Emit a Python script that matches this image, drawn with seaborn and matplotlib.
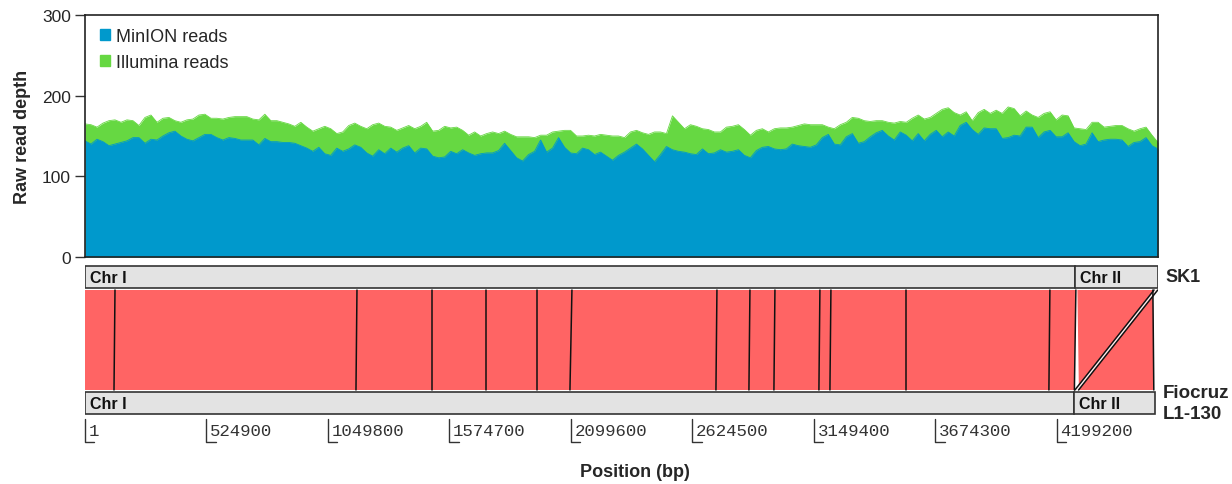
import numpy as np
import pandas as pd
import matplotlib
matplotlib.use("Agg")
import matplotlib.pyplot as plt
from matplotlib.patches import Patch, Rectangle
import seaborn as sns

# read depth in ~25.9 kb windows along the SK1 genome
window_bp = 25900
minion_depth = [
    144, 140, 146, 143, 138, 140, 142, 144, 148, 148, 141, 146, 145, 150, 154, 156, 150, 146,
    144, 148, 152, 152, 148, 145, 148, 147, 145, 145, 145, 139, 147, 143, 143, 142, 142, 141,
    138, 135, 131, 136, 128, 126, 135, 131, 134, 139, 136, 129, 125, 133, 128, 135, 130, 135,
    138, 129, 135, 134, 125, 123, 124, 131, 128, 133, 129, 126, 128, 129, 129, 132, 141, 132,
    123, 119, 127, 131, 145, 130, 135, 148, 136, 129, 128, 135, 133, 127, 130, 125, 120, 126,
    130, 135, 140, 134, 126, 118, 127, 137, 133, 131, 130, 128, 127, 134, 128, 129, 133, 130,
    131, 133, 126, 123, 132, 136, 137, 134, 133, 134, 140, 138, 137, 136, 139, 148, 152, 140,
    139, 149, 153, 141, 143, 149, 154, 157, 150, 145, 155, 151, 144, 153, 144, 152, 157, 149,
    155, 150, 163, 167, 158, 152, 160, 159, 159, 147, 148, 151, 150, 161, 161, 148, 155, 157,
    149, 149, 154, 143, 138, 140, 154, 143, 145, 146, 146, 145, 137, 142, 143, 148, 138, 134,
]
illumina_depth = [
    165, 164, 161, 166, 169, 170, 167, 170, 169, 163, 173, 176, 167, 172, 173, 169, 167, 170,
    171, 176, 177, 172, 172, 171, 173, 174, 174, 174, 171, 170, 177, 169, 169, 167, 165, 162,
    167, 161, 156, 159, 162, 159, 153, 155, 163, 166, 162, 159, 164, 166, 162, 161, 157, 160,
    163, 159, 162, 167, 156, 157, 162, 160, 161, 157, 151, 155, 150, 153, 155, 153, 156, 152,
    149, 149, 149, 148, 151, 151, 155, 156, 157, 157, 150, 150, 151, 150, 152, 151, 150, 150,
    148, 155, 157, 154, 152, 155, 155, 153, 175, 167, 159, 164, 162, 159, 158, 155, 155, 161,
    162, 164, 158, 151, 157, 159, 155, 159, 160, 160, 161, 163, 165, 164, 164, 164, 161, 159,
    164, 167, 173, 172, 169, 168, 169, 169, 167, 166, 168, 167, 172, 176, 171, 173, 178, 183,
    185, 179, 176, 180, 169, 179, 183, 178, 182, 178, 186, 184, 175, 181, 176, 173, 178, 180,
    170, 176, 175, 160, 159, 158, 167, 167, 161, 162, 163, 163, 159, 156, 159, 161, 151, 142,
]

# genome layout (bp)
sk1_chr_ends = [4277000, 4635600]
fio_chr_ends = [4272700, 4622600]
chr_names = ["Chr I", "Chr II"]

# collinear block breakpoints on Chr I (SK1 vs Fiocruz L1-130)
sk1_breaks = [0, 129600, 1175100, 1499100, 1732400, 1952700, 2103900, 2730400, 2873000,
              2981000, 3175300, 3222900, 3546900, 4169000, 4281300]
fio_breaks = [0, 125300, 1170800, 1499100, 1732400, 1952700, 2095300, 2726100, 2868600,
              2976600, 3171000, 3218600, 3546900, 4164700, 4274800]
# Chr II: main block, plus a small end segment that moved to the start in Fiocruz
chr2_main = (4287800, 4614000, 4294300, 4618000)
chr2_moved = (4619000, 4635000, 4277000, 4293000)

tick_pos = [1, 524900, 1049800, 1574700, 2099600, 2624500, 3149400, 3674300, 4199200]

blue = "#0099CC"
green = "#66D842"
red = "#FF6464"
bar_grey = "#E3E3E3"

df = pd.DataFrame({
    "pos": np.arange(len(minion_depth)) * window_bp,
    "MinION": minion_depth,
    "Illumina": illumina_depth,
})

sns.set_theme(style="white")
plt.rcParams["font.family"] = ["Liberation Sans", "DejaVu Sans"]

fig = plt.figure(figsize=(12.32, 4.85), dpi=100)
xmax = df["pos"].iloc[-1]

# ---- coverage panel ----
ax = fig.add_axes([85 / 1232, 1 - 258 / 485, 1073 / 1232, 242 / 485])
ax.fill_between(df["pos"], 0, df["Illumina"], color=green, lw=0)
sns.lineplot(data=df, x="pos", y="Illumina", color=green, lw=0.6, ax=ax)
ax.fill_between(df["pos"], 0, df["MinION"], color=blue, lw=0)
sns.lineplot(data=df, x="pos", y="MinION", color=blue, lw=0.6, ax=ax)
ax.set_xlim(0, xmax)
ax.set_ylim(0, 300)
ax.set_yticks([0, 100, 200, 300])
ax.set_xticks([])
ax.set_xlabel("")
ax.set_ylabel("Raw read depth", fontsize=13, fontweight="bold", labelpad=8)
ax.tick_params(axis="y", labelsize=12.5, length=7, width=1, color="#333333", left=True,
               pad=3)
for s in ax.spines.values():
    s.set_color("#222222")
    s.set_linewidth(1.2)
handles = [Patch(color=blue, label="MinION reads"), Patch(color=green, label="Illumina reads")]
ax.legend(handles=handles, loc="upper left", bbox_to_anchor=(0.014, 0.948), frameon=False,
          fontsize=13, handlelength=0.55, handleheight=0.55, handletextpad=0.35,
          labelspacing=0.5, borderaxespad=0, borderpad=0)

# ---- synteny panel (y in pixel rows) ----
bx = fig.add_axes([85 / 1232, 1 - 450 / 485, 1073 / 1232, 188 / 485])
bx.set_xlim(0, xmax)
bx.set_ylim(450, 262)
bx.axis("off")

top_y0, top_y1 = 267, 289
bot_y0, bot_y1 = 393, 415
red_top, red_bot = 291, 391


def chrom_bar(ends, y0, y1):
    start = 0
    for end, name in zip(ends, chr_names):
        bx.add_patch(Rectangle((start, y0), end - start, y1 - y0, facecolor=bar_grey,
                               edgecolor="#333333", lw=1.2))
        bx.text(start + 20000, (y0 + y1) / 2 + 0.5, name, fontsize=11.5, fontweight="bold",
                va="center", ha="left", color="#111111")
        start = end


def block(s0, s1, f0, f1, color):
    bx.fill([s0, s1, f1, f0], [red_top, red_top, red_bot, red_bot], color=color, lw=0)


chrom_bar(sk1_chr_ends, top_y0, top_y1)
chrom_bar(fio_chr_ends, bot_y0, bot_y1)

for i in range(len(sk1_breaks) - 1):
    block(sk1_breaks[i], sk1_breaks[i + 1], fio_breaks[i], fio_breaks[i + 1], red)
for s, f in zip(sk1_breaks[1:], fio_breaks[1:]):
    bx.plot([s, f], [red_top, red_bot], color="#111111", lw=1.1)

s0, s1, f0, f1 = chr2_main
block(s0, s1, f0, f1, red)
bx.plot([s1, f1], [red_top, red_bot], color="#111111", lw=1.1)

s0, s1, f0, f1 = chr2_moved
block(s0, s1, f0, f1, "#FFF0F0")
bx.plot([s0, f0], [red_top, red_bot], color="#111111", lw=1.1)
bx.plot([s1, f1], [red_top, red_bot], color="#111111", lw=1.1)

for t in tick_pos:
    bx.plot([t, t, t + 40000], [420, 443, 443], color="#333333", lw=1.0, clip_on=False)
    bx.text(t + 16000, 432, str(t), fontsize=12.5, family="Liberation Mono",
            va="center", ha="left", color="#333333")

fig.text(1165 / 1232, 1 - 278 / 485, "SK1", fontsize=13, fontweight="bold",
         va="center", ha="left")
fig.text(1163 / 1232, 1 - 404 / 485, "Fiocruz\nL1-130", fontsize=13.5, fontweight="bold",
         va="center", ha="left", linespacing=1.3)
fig.text(635 / 1232, 1 - 473 / 485, "Position (bp)", fontsize=13, fontweight="bold",
         va="center", ha="center")

fig.savefig("out.png", dpi=100)
